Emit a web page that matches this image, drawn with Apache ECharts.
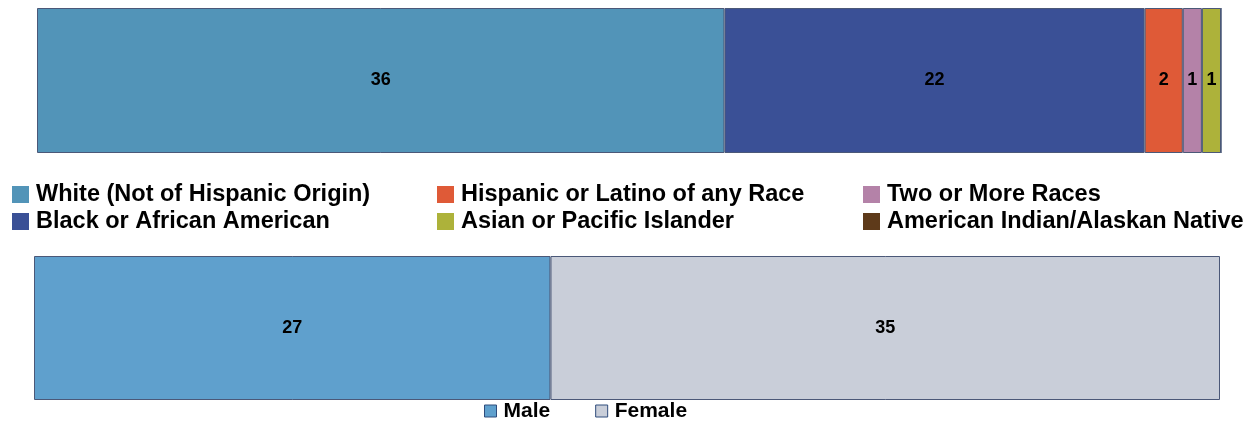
<!DOCTYPE html>
<html>
<head>
<meta charset="utf-8">
<script src="https://cdn.jsdelivr.net/npm/echarts@6/dist/echarts.min.js"></script>
<style>
  html, body { margin: 0; padding: 0; background: #fff; }
  #chart { width: 1256px; height: 421px; }
</style>
</head>
<body>
<div id="chart"></div>
<script>
// race / ethnicity breakdown (top bar)
var raceNames = ['White (Not of Hispanic Origin)', 'Black or African American', 'Hispanic or Latino of any Race',
                 'Two or More Races', 'Asian or Pacific Islander', 'American Indian/Alaskan Native'];
var raceValues = [36, 22, 2, 1, 1, 0];
var raceColors = ['#5294B8', '#3A5096', '#DF5A37', '#B482A8', '#ADB23A', '#5E3A1A'];

// gender breakdown (bottom bar)
var genderNames = ['Male', 'Female'];
var genderValues = [27, 35];
var genderColors = ['#5FA0CD', '#C9CED9'];

var total = 62;

var barLabel = {
    show: true,
    position: 'inside',
    color: '#000',
    fontFamily: 'Liberation Sans',
    fontWeight: 'bold',
    fontSize: 18
};

var series = [];
for (var i = 0; i < raceNames.length; i++) {
    series.push({
        name: raceNames[i],
        type: 'bar',
        stack: 'race',
        xAxisIndex: 0,
        yAxisIndex: 0,
        barWidth: '100%',
        data: [raceValues[i]],
        itemStyle: { color: raceColors[i], borderColor: '#4B5878', borderWidth: 1 },
        label: Object.assign({}, barLabel, { show: raceValues[i] > 0 })
    });
}
for (var j = 0; j < genderNames.length; j++) {
    series.push({
        name: genderNames[j],
        type: 'bar',
        stack: 'gender',
        xAxisIndex: 1,
        yAxisIndex: 1,
        barWidth: '100%',
        data: [genderValues[j]],
        itemStyle: { color: genderColors[j], borderColor: '#4B5878', borderWidth: 1 },
        label: barLabel
    });
}

var makeRaceLegend = function(left, items){
    return {
        orient: 'vertical',
        left: left,
        top: 181,
        padding: 0,
        itemWidth: 17,
        itemHeight: 17,
        itemGap: 0,
        icon: 'rect',
        selectedMode: false,
        data: items.map(function(n){
            return { name: n, itemStyle: { borderWidth: 0 } };
        }),
        textStyle: { fontFamily: 'Liberation Sans', fontWeight: 'bold', fontSize: 23.5, lineHeight: 27, color: '#000', padding: [0, 0, 0, 2] }
    };
};

var myChart = echarts.init(document.getElementById('chart'));
var option = {
    animation: false,
    grid: [
        { left: 37, right: 35, top: 8, height: 145 },
        { left: 34, right: 36, top: 256, height: 144 }
    ],
    xAxis: [
        { type: 'value', gridIndex: 0, min: 0, max: total, show: false },
        { type: 'value', gridIndex: 1, min: 0, max: total, show: false }
    ],
    yAxis: [
        { type: 'category', gridIndex: 0, data: [''], show: false },
        { type: 'category', gridIndex: 1, data: [''], show: false }
    ],
    legend: [
        makeRaceLegend(12, [raceNames[0], raceNames[1]]),
        makeRaceLegend(437, [raceNames[2], raceNames[4]]),
        makeRaceLegend(863, [raceNames[3], raceNames[5]]),
        {
            orient: 'horizontal',
            left: 484,
            top: 399,
            padding: 0,
            itemWidth: 12,
            itemHeight: 12,
            itemGap: 45,
            icon: 'rect',
            selectedMode: false,
            data: genderNames.map(function(n){
                return { name: n, itemStyle: { borderColor: '#2E4C7C', borderWidth: 1 } };
            }),
            textStyle: { fontFamily: 'Liberation Sans', fontWeight: 'bold', fontSize: 21, lineHeight: 24, color: '#000', padding: [0, 0, 0, 2] }
        }
    ],
    series: series
};
myChart.setOption(option);
</script>
</body>
</html>
